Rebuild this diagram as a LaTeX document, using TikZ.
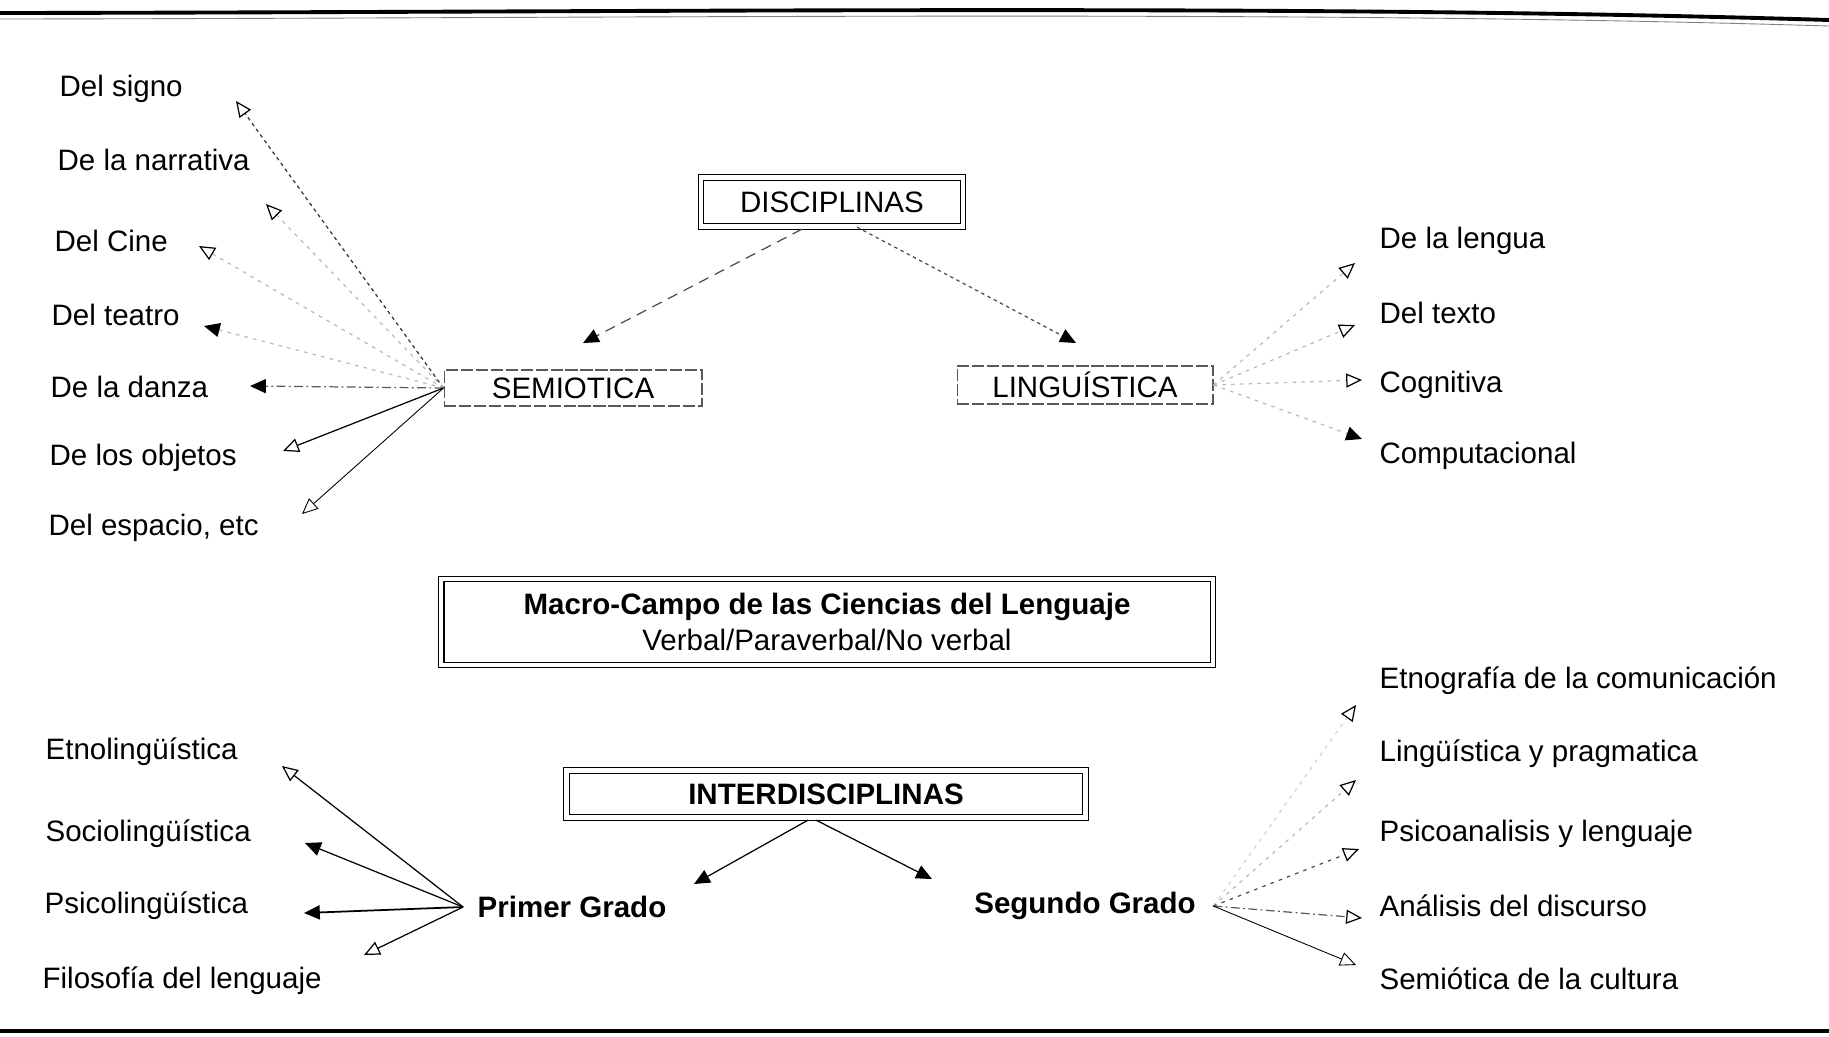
\documentclass[tikz,border=0pt]{standalone}
\usepackage{fontspec}
\setmainfont{Liberation Sans}
\usetikzlibrary{arrows.meta}

\tikzset{
  every node/.style={font=\fontsize{16.8}{19.5}\selectfont},
  item/.style={anchor=west, inner sep=0pt},
  frame/.style={draw=gray!70!black, dash pattern=on 7pt off 1.5pt, line width=0.6pt, inner sep=0pt},
  dframe/.style={draw, double, double distance=2.5pt, line width=0.7pt, inner sep=0pt},
  opentip/.style={-{Triangle[open,length=9pt,width=8pt,color=black]}},
  fulltip/.style={-{Triangle[length=9pt,width=8pt,color=black]}},
  faded/.style={gray!55, dash pattern=on 2pt off 3pt},
  dotdash/.style={gray!70!black, dash pattern=on 5pt off 2pt on 1pt off 2pt},
}

\begin{document}
\begin{tikzpicture}[x=0.02cm, y=-0.02cm, line width=0.7pt]
\useasboundingbox (0,0) rectangle (1829,1036);

% page rules
\draw[line width=2.2pt] (0,13) .. controls (700,12) and (1300,4) .. (1829,20);
\draw[line width=0.5pt, gray] (0,19) .. controls (700,18) and (1300,10) .. (1829,26);
\draw[line width=2.6pt] (0,1031) -- (1829,1031);

% boxes
\node[dframe, minimum width=5.24cm, minimum height=0.98cm] (disc) at (832,202) {DISCIPLINAS};
\node[frame, minimum width=5.16cm, minimum height=0.72cm] (semio) at (573,388) {SEMIOTICA};
\node[frame, minimum width=5.12cm, minimum height=0.76cm] (ling) at (1085,385) {LINGUÍSTICA};
\node[dframe, minimum width=15.44cm, minimum height=1.72cm, align=center] (macro) at (827,622)
  {\textbf{Macro-Campo de las Ciencias del Lenguaje}\\[1pt]Verbal/Paraverbal/No verbal};
\node[dframe, minimum width=10.38cm, minimum height=0.94cm] (inter) at (826,794) {\textbf{INTERDISCIPLINAS}};
\node[inner sep=0.28cm] (prim) at (572,907) {\textbf{Primer Grado}};
\node[inner sep=0.34cm] (seg) at (1085,906) {\textbf{Segundo Grado}};

% semiotica
\foreach \n/\x/\y/\t in {signo/59/89/Del signo, narr/57/160/De la narrativa, cine/54/241/Del Cine,
    teatro/51/315/Del teatro, danza/50/387/De la danza, obj/49/458/De los objetos,
    esp/48/528/{Del espacio, etc}}
  \node[item] (\n) at (\x,\y) {\t};
% linguistica
\foreach \n/\y/\t in {lengua/241/De la lengua, texto/313/Del texto, cogn/385/Cognitiva,
    comp/456/Computacional}
  \node[item] (\n) at (1379,\y) {\t};
% primer grado
\foreach \n/\x/\y/\t in {etno/45/752/Etnolingüística, socio/45/834/Sociolingüística,
    psico/44/906/Psicolingüística, filo/42/981/Filosofía del lenguaje}
  \node[item] (\n) at (\x,\y) {\t};
% segundo grado
\foreach \n/\y/\t in {etnog/681/Etnografía de la comunicación, lprag/754/Lingüística y pragmatica,
    psan/834/Psicoanalisis y lenguaje, adisc/906/Análisis del discurso, scult/979/Semiótica de la cultura}
  \node[item] (\n) at (1379,\y) {\t};

% arrow ends
\foreach \n/\x/\y in {signo/236/101, narr/266/204, cine/199/246, teatro/204/326, danza/250/386,
    obj/283/451, esp/302/514, lengua/1355/263, texto/1355/325, cogn/1362/380, comp/1362/439,
    etno/282/766, socio/305/843, psico/304/913, filo/364/955, etnog/1356/705, lprag/1356/780,
    psan/1359/849, adisc/1362/918, scult/1356/965, semioT/583/343, lingT/1076/343,
    primT/694/884, segT/932/879}
  \coordinate (\n-tip) at (\x,\y);

\draw[faded, dash pattern=on 2pt off 2pt, gray!40!black, opentip] (semio.west) -- (signo-tip);
\draw[faded, opentip] (semio.west) -- (narr-tip);
\draw[faded, opentip] (semio.west) -- (cine-tip);
\draw[faded, fulltip] (semio.west) -- (teatro-tip);
\draw[dotdash, fulltip] (semio.west) -- (danza-tip);
\draw[opentip] (semio.west) -- (obj-tip);
\draw[line width=0.5pt, opentip] (semio.west) -- (esp-tip);

\draw[faded, opentip] (ling.east) -- (lengua-tip);
\draw[faded, opentip] (ling.east) -- (texto-tip);
\draw[faded, opentip] (ling.east) -- (cogn-tip);
\draw[faded, fulltip] (ling.east) -- (comp-tip);

\draw[gray!60!black, dash pattern=on 6pt off 4pt, fulltip] (disc.south) ++(-30,2) -- (semioT-tip);
\draw[gray!60!black, dash pattern=on 2pt off 2pt, fulltip] (disc.south) ++(25,0) -- (lingT-tip);

\draw[fulltip] (inter.south) ++(-18,2) -- (primT-tip);
\draw[fulltip] (inter.south) ++(-10,2) -- (segT-tip);

\draw[opentip] (prim.west) -- (etno-tip);
\draw[fulltip] (prim.west) -- (socio-tip);
\draw[line width=1pt, fulltip] (prim.west) -- (psico-tip);
\draw[opentip] (prim.west) -- (filo-tip);

\draw[faded, gray!35, opentip] (seg.east) -- (etnog-tip);
\draw[faded, opentip] (seg.east) -- (lprag-tip);
\draw[faded, gray!60!black, opentip] (seg.east) -- (psan-tip);
\draw[dotdash, opentip] (seg.east) -- (adisc-tip);
\draw[line width=0.5pt, opentip] (seg.east) -- (scult-tip);
\end{tikzpicture}
\end{document}
